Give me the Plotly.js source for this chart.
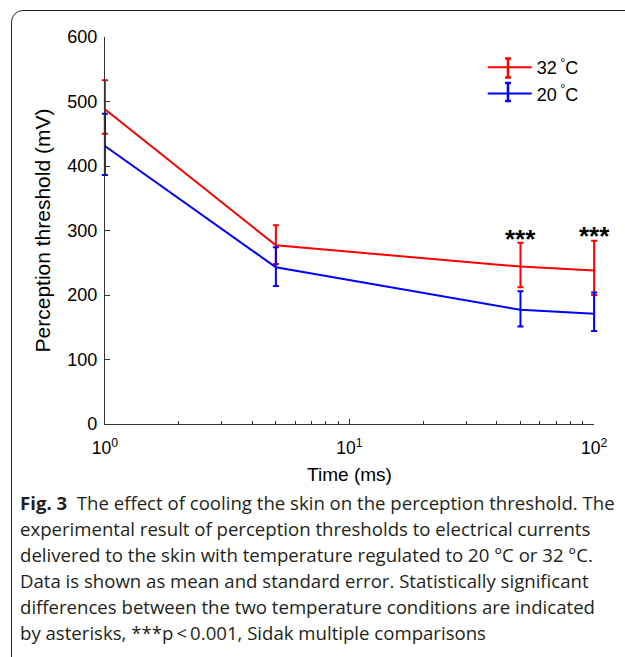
<!DOCTYPE html>
<html>
<head>
<meta charset="utf-8">
<script src="https://cdn.plot.ly/plotly-3.0.1.min.js"></script>
<style>
  html, body { margin:0; padding:0; background:#fff; width:625px; height:657px; overflow:hidden; }
  #frame { position:absolute; left:11px; top:10px; width:720px; height:720px; border:1.3px solid #222; border-radius:12px; box-sizing:border-box; }
  #plot { position:absolute; left:0; top:0; width:625px; height:657px; }
  #caption { position:absolute; left:20px; top:490px; width:605px; font-family:"Open Sans", sans-serif; font-size:18.6px; line-height:26px; color:#231f20; letter-spacing:0px; white-space:nowrap; }
  #caption b { font-weight:700; }
</style>
</head>
<body>
<div id="frame"></div>
<div id="plot"></div>
<div id="caption"></div>
<script>
// Data
const timeMs = [1, 5, 50, 100];
const warmLabel = '32<sup> °</sup>C';
const coolLabel = '20<sup> °</sup>C';
const warmMean = [488, 277, 244, 238];
const warmErrPlus = [45, 31, 37, 46];
const warmErrMinus = [38, 29, 32, 38];
const coolMean = [431, 243, 177, 171];
const coolErrPlus = [50, 31, 29, 33];
const coolErrMinus = [45, 29, 26, 27];
const xTickVals = [1, 10, 100];
const xTickText = ['10<sup>0</sup>', '10<sup>1</sup>', '10<sup>2</sup>'];
const sigTimes = [50, 100];
const sigLabels = ['***', '***'];
const sigHeights = [260, 265];

const captionLines = [
  '<b>Fig. 3</b>&nbsp; The effect of cooling the skin on the perception threshold. The',
  'experimental result of perception thresholds to electrical currents',
  'delivered to the skin with temperature regulated to 20 °C or 32 °C.',
  'Data is shown as mean and standard error. Statistically significant',
  'differences between the two temperature conditions are indicated',
  'by asterisks, ***p\u2009<\u20090.001, Sidak multiple comparisons'
];
document.getElementById('caption').innerHTML = captionLines.join('<br>');

const font = 'Liberation Sans, Arial, sans-serif';

const traces = [
  {
    x: timeMs, y: warmMean, name: warmLabel, type: 'scatter', mode: 'lines',
    line: {color: '#ff0000', width: 2},
    error_y: {type: 'data', symmetric: false, array: warmErrPlus, arrayminus: warmErrMinus, color: '#ff0000', thickness: 2, width: 3},
    cliponaxis: false, xaxis: 'x', yaxis: 'y'
  },
  {
    x: timeMs, y: coolMean, name: coolLabel, type: 'scatter', mode: 'lines',
    line: {color: '#0000ff', width: 2},
    error_y: {type: 'data', symmetric: false, array: coolErrPlus, arrayminus: coolErrMinus, color: '#0000ff', thickness: 2, width: 3},
    cliponaxis: false, xaxis: 'x', yaxis: 'y'
  },
  // empty trace that carries the visible axes
  {x: [], y: [], xaxis: 'x2', yaxis: 'y2', type: 'scatter', mode: 'lines', showlegend: false, hoverinfo: 'skip'}
];

const annotations = sigTimes.map((t, i) => ({
  x: Math.log10(t), y: sigHeights[i], xref: 'x2', yref: 'y2',
  text: sigLabels[i], showarrow: false, yanchor: 'bottom',
  font: {family: 'Liberation Sans, Arial, sans-serif', size: 26, color: '#000', weight: 'bold'}
}));

// error-bar glyphs for the legend symbols (decoration)
function legendBar(ycenter, half, color) {
  const common = {type: 'line', xref: 'paper', yref: 'paper', xsizemode: 'pixel', ysizemode: 'pixel',
                  xanchor: 0.8176, yanchor: ycenter, line: {color: color, width: 2.5}};
  return [
    Object.assign({}, common, {x0: 0, x1: 0, y0: -half, y1: half}),
    Object.assign({}, common, {x0: -3, x1: 3, y0: -half, y1: -half}),
    Object.assign({}, common, {x0: -3, x1: 3, y0: half, y1: half})
  ];
}
const shapes = [].concat(legendBar(0.9199, 9.5, '#ff0000'), legendBar(0.8579, 9, '#0000ff'));

// plot width 499 px for 2.04 decades -> 0.02 decade padding = 4.89 px
const pad = 4.89 / 499;

const layout = {
  width: 625, height: 657,
  margin: {l: 100, r: 26, t: 37, b: 233},
  paper_bgcolor: 'rgba(0,0,0,0)', plot_bgcolor: 'rgba(0,0,0,0)',
  font: {family: font, size: 16, color: '#000'},
  showlegend: true,
  legend: {x: 0.767, y: 0.969, xanchor: 'left', yanchor: 'top', bgcolor: 'rgba(0,0,0,0)', font: {family: font, size: 18, color: '#000'}, tracegroupgap: 0, itemwidth: 44},
  xaxis: {
    type: 'log', range: [-0.02, 2.02], domain: [0, 1], visible: false, anchor: 'y'
  },
  yaxis: {
    range: [0, 600], domain: [0, 1], visible: false, anchor: 'x'
  },
  xaxis2: {
    type: 'log', range: [0, 2], domain: [pad, 1 - pad], anchor: 'y2',
    showgrid: false, zeroline: false,
    showline: true, linecolor: '#333', linewidth: 1,
    ticks: 'inside', ticklen: 5, tickcolor: '#333',
    tickvals: xTickVals, ticktext: xTickText, ticklabelstandoff: 8,
    tickfont: {family: font, size: 17.5, color: '#000'},
    minor: {ticks: 'inside', ticklen: 3, tickcolor: '#333', dtick: 'D1', showgrid: false},
    title: {text: 'Time (ms)', font: {family: font, size: 19, color: '#000'}, standoff: 10},
    automargin: false
  },
  yaxis2: {
    range: [0, 600], dtick: 100, domain: [0, 1], anchor: 'x2',
    showgrid: false, zeroline: false,
    showline: true, linecolor: '#333', linewidth: 1,
    ticks: 'inside', ticklen: 5, tickcolor: '#333', ticklabelstandoff: 3,
    tickfont: {family: font, size: 18, color: '#000'},
    title: {text: 'Perception threshold (mV)', font: {family: font, size: 21, color: '#000'}, standoff: 10},
    automargin: false
  },
  annotations: annotations,
  shapes: shapes
};

Plotly.newPlot('plot', traces, layout, {displayModeBar: false, staticPlot: true});
</script>
</body>
</html>
